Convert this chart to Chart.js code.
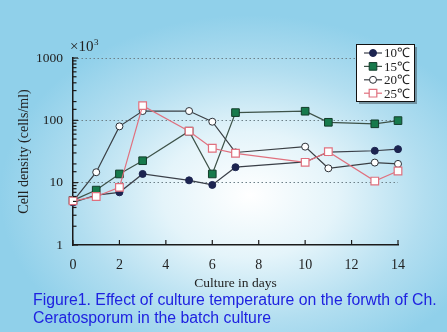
<!DOCTYPE html>
<html lang="en">
  <head>
    <meta charset="UTF-8" />
    <title>Culture temperature and growth</title>
    <style>
      html, body {
        margin: 0;
        padding: 0;
      }
      body {
        width: 447px;
        height: 332px;
        overflow: hidden;
        position: relative;
        background: radial-gradient(ellipse 250px 180px at 250px 195px, #ffffff 0%, #e4f4fa 35%, #b2def0 70%, #90d0ea 100%);
        background-color: #90d0ea;
      }
      #wrap {
        position: absolute;
        left: 0;
        top: 0;
        width: 447px;
        height: 332px;
      }
      #caption {
        position: absolute;
        left: 33px;
        top: 291px;
        font-family: "Liberation Sans", Arial, sans-serif;
        font-size: 15.8px;
        line-height: 18px;
        color: #1f22e0;
        white-space: nowrap;
      }
    </style>
  </head>
  <body>
    <div id="wrap"><canvas id="chart" width="447" height="332"></canvas></div>
    <div id="caption">Figure1. Effect of culture temperature on the forwth of Ch.<br />Ceratosporum in the batch culture</div>

    <script src="https://cdn.jsdelivr.net/npm/chart.js"></script>
    <script>
      // days sampled, and cell density (x10^3 cells/ml) per temperature
      const days = [0, 1, 2, 3, 5, 6, 7, 10, 11, 13, 14];
      const temp10 = [4.8, 6.3, 7.0, 13.8, 10.9, 9.2, 17.7, 21.5, 31, 32.5, 34.5];
      const temp15 = [5.2, 7.6, 13.8, 22.5, 67, 13.8, 133, 140, 93, 88, 99];
      const temp20 = [5.0, 14.7, 80, 141, 141, 95, 30.5, 37.8, 17, 21, 20];
      const temp25 = [5.1, 6.0, 8.4, 172, 67, 35.6, 29.6, 21.2, 31.4, 10.6, 15.4];
      const seriesLabels = ["10\u2103", "15\u2103", "20\u2103", "25\u2103"];
      const yTickLabels = [1, 10, 100, 1000];

      const serif = "'Liberation Serif', 'Times New Roman', serif";

      function pts(values) {
        return days.map((d, i) => ({ x: d, y: values[i] }));
      }

      // inward tick marks, the x10^3 note and the boxed legend
      const extras = {
        id: "extras",
        afterDraw(chart) {
          const ctx = chart.ctx;
          const area = chart.chartArea;
          const xs = chart.scales.x;
          const ys = chart.scales.y;
          ctx.save();
          ctx.strokeStyle = "#1a1a1a";
          ctx.lineWidth = 1.2;
          ys.ticks.forEach((t) => {
            const y = ys.getPixelForValue(t.value);
            const len = yTickLabels.includes(t.value) ? 5 : 3.5;
            ctx.beginPath();
            ctx.moveTo(area.left, y);
            ctx.lineTo(area.left + len, y);
            ctx.stroke();
          });
          xs.ticks.forEach((t) => {
            const x = xs.getPixelForValue(t.value);
            ctx.beginPath();
            ctx.moveTo(x, area.bottom);
            ctx.lineTo(x, area.bottom - 5);
            ctx.stroke();
          });

          ctx.fillStyle = "#222";
          ctx.font = "15px " + serif;
          ctx.textBaseline = "alphabetic";
          ctx.textAlign = "left";
          ctx.fillText("\u00d710", 70, 51);
          ctx.font = "9px " + serif;
          ctx.fillText("3", 94, 45);

          // legend box
          const bx = 356, by = 44, bw = 58, bh = 57;
          ctx.fillStyle = "rgba(70,90,100,0.55)";
          ctx.fillRect(bx + 3, by + 3, bw, bh);
          ctx.fillStyle = "#ffffff";
          ctx.fillRect(bx, by, bw, bh);
          ctx.strokeStyle = "#111";
          ctx.lineWidth = 1;
          ctx.strokeRect(bx + 0.5, by + 0.5, bw, bh);
          chart.data.datasets.forEach((ds, i) => {
            const y = by + 9 + i * 13.4;
            ctx.strokeStyle = ds.borderColor;
            ctx.lineWidth = 1.2;
            ctx.beginPath();
            ctx.moveTo(364, y);
            ctx.lineTo(382, y);
            ctx.stroke();
            ctx.fillStyle = ds.pointBackgroundColor;
            ctx.strokeStyle = ds.pointBorderColor;
            ctx.lineWidth = ds.pointBorderWidth;
            ctx.beginPath();
            if (ds.pointStyle === "rect") {
              const s = ds.pointRadius * Math.SQRT1_2;
              ctx.rect(373 - s, y - s, s * 2, s * 2);
            } else {
              ctx.arc(373, y, ds.pointRadius, 0, Math.PI * 2);
            }
            ctx.fill();
            ctx.stroke();
            ctx.fillStyle = "#222";
            ctx.font = "13px " + serif;
            ctx.textBaseline = "middle";
            ctx.fillText(ds.label, 384, y + 1);
          });
          ctx.restore();
        },
      };

      const ctx = document.getElementById("chart").getContext("2d");
      const chart = new Chart(ctx, {
        type: "line",
        data: {
          datasets: [
            {
              label: seriesLabels[0],
              data: pts(temp10),
              borderColor: "#3a3f48",
              borderWidth: 1.2,
              pointStyle: "circle",
              pointRadius: 3.5,
              pointBackgroundColor: "#1c2450",
              pointBorderColor: "#1c2450",
              pointBorderWidth: 1,
              clip: false,
              order: 4,
            },
            {
              label: seriesLabels[1],
              data: pts(temp15),
              borderColor: "#3d5248",
              borderWidth: 1.2,
              pointStyle: "rect",
              pointRadius: 5.4,
              pointBackgroundColor: "#177a4c",
              pointBorderColor: "#123c2a",
              pointBorderWidth: 1,
              clip: false,
              order: 3,
            },
            {
              label: seriesLabels[2],
              data: pts(temp20),
              borderColor: "#3a3f44",
              borderWidth: 1.2,
              pointStyle: "circle",
              pointRadius: 3.5,
              pointBackgroundColor: "#ffffff",
              pointBorderColor: "#2a2f36",
              pointBorderWidth: 1,
              clip: false,
              order: 2,
            },
            {
              label: seriesLabels[3],
              data: pts(temp25),
              borderColor: "#e0707e",
              borderWidth: 1.2,
              pointStyle: "rect",
              pointRadius: 5.4,
              pointBackgroundColor: "#ffffff",
              pointBorderColor: "#e0707e",
              pointBorderWidth: 1.2,
              clip: false,
              order: 1,
            },
          ],
        },
        options: {
          responsive: false,
          animation: false,
          layout: { padding: { left: 0, right: 49, top: 58, bottom: 37 } },
          plugins: {
            legend: { display: false },
            tooltip: { enabled: false },
          },
          scales: {
            x: {
              type: "linear",
              min: 0,
              max: 14,
              afterFit: (s) => { s.height = 50; },
              ticks: {
                stepSize: 2,
                padding: 12,
                color: "#222",
                font: { family: serif, size: 14 },
              },
              grid: { display: false, drawTicks: false },
              border: { color: "#1a1a1a", width: 1.5 },
              title: {
                display: true,
                text: "Culture in days",
                color: "#222",
                font: { family: serif, size: 13.5 },
                padding: { top: 0, bottom: 3 },
              },
            },
            y: {
              type: "logarithmic",
              min: 1,
              max: 1000,
              afterFit: (s) => { s.width = 73; },
              ticks: {
                autoSkip: false,
                padding: 10,
                color: "#222",
                font: { family: serif, size: 13.5 },
                callback: (v) => (yTickLabels.includes(v) ? String(v) : ""),
              },
              grid: {
                drawTicks: false,
                lineWidth: 1,
                color: (c) =>
                  c.tick && [10, 100, 1000].includes(c.tick.value) ? "#6d8088" : "rgba(0,0,0,0)",
              },
              border: { color: "#1a1a1a", width: 1.5, dash: [1.5, 2.5] },
              title: {
                display: true,
                text: "Cell density (cells/ml)",
                color: "#222",
                font: { family: serif, size: 14 },
                padding: { top: 16, bottom: 0 },
              },
            },
          },
        },
        plugins: [extras],
      });
    </script>
  </body>
</html>
